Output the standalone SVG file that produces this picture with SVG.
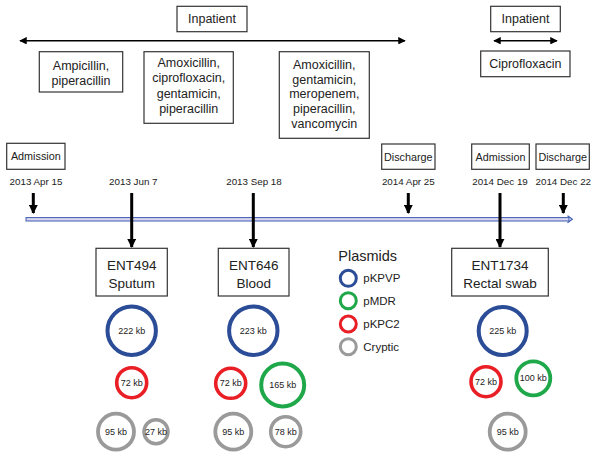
<svg xmlns="http://www.w3.org/2000/svg" width="600" height="461" viewBox="0 0 600 461">
<style>
text{font-family:"Liberation Sans",Arial,sans-serif;fill:#222;text-anchor:middle}
.box{fill:#fff;stroke:#333;stroke-width:1.2}
.drug{font-size:12.5px}
.ev{font-size:10.8px}
.date{font-size:9.8px}
.ent{font-size:13.5px}
.kb{font-size:9px}
.leg{font-size:11.5px;text-anchor:start}
.pl{fill:none}
.blue{stroke:#2b4c96}
.green{stroke:#1ea84a}
.red{stroke:#ea1f26}
.gray{stroke:#9a9a9a}
.arr{stroke:#000;stroke-width:3;fill:none}
.thin{stroke:#000;stroke-width:1.5;fill:none}
</style>
<defs>
<marker id="ah" viewBox="0 0 10 10" refX="9" refY="5" markerWidth="3" markerHeight="3" orient="auto" markerUnits="strokeWidth">
<path d="M0,0 L10,5 L0,10 z" fill="#000"/>
</marker>
<marker id="ah2" viewBox="0 0 10 10" refX="9" refY="5" markerWidth="6" markerHeight="5" orient="auto-start-reverse" markerUnits="strokeWidth">
<path d="M0,0 L10,5 L0,10 z" fill="#000"/>
</marker>
</defs>

<g id="connectors">
<line class="thin" x1="20" y1="40.7" x2="405" y2="40.7" marker-start="url(#ah2)" marker-end="url(#ah2)"/>
<line class="thin" x1="494" y1="40.7" x2="557" y2="40.7" marker-start="url(#ah2)" marker-end="url(#ah2)"/>
<g id="timeline">
<rect x="26" y="217.6" width="543" height="3.4" fill="#d9d6f0" stroke="#3d5cb0" stroke-width="1"/>
<polyline points="567.5,215.8 572.3,219.3 567.5,222.8" fill="none" stroke="#3d5cb0" stroke-width="1.2"/>
</g>
<line class="arr" x1="33.3" y1="193" x2="33.3" y2="213" marker-end="url(#ah)"/>
<line class="arr" x1="131.7" y1="193" x2="131.7" y2="247" marker-end="url(#ah)"/>
<line class="arr" x1="253.3" y1="193" x2="253.3" y2="247" marker-end="url(#ah)"/>
<line class="arr" x1="408.3" y1="193" x2="408.3" y2="213" marker-end="url(#ah)"/>
<line class="arr" x1="500" y1="193" x2="500" y2="247" marker-end="url(#ah)"/>
<line class="arr" x1="563.3" y1="193" x2="563.3" y2="213" marker-end="url(#ah)"/>
</g>

<g id="inpatient1"><rect class="box" x="177" y="6.3" width="70" height="25.4"/><text class="drug" x="212" y="23.3" font-size="12">Inpatient</text></g>
<g id="inpatient2"><rect class="box" x="490.7" y="6.3" width="69.6" height="25.4"/><text class="drug" x="525.5" y="23.3">Inpatient</text></g>

<g id="drugs1"><rect class="box" x="39.3" y="51.7" width="83.4" height="40.3"/>
<text class="drug" x="81" y="69.5">Ampicillin,</text><text class="drug" x="81" y="84.5">piperacillin</text></g>
<g id="drugs2"><rect class="box" x="144" y="51.7" width="89.3" height="71.6"/>
<text class="drug" x="188.7" y="67.3">Amoxicillin,</text><text class="drug" x="188.7" y="82">ciprofloxacin,</text><text class="drug" x="188.7" y="97.5">gentamicin,</text><text class="drug" x="188.7" y="112.5">piperacillin</text></g>
<g id="drugs3"><rect class="box" x="279.3" y="51.7" width="90" height="86.6"/>
<text class="drug" x="324.3" y="69">Amoxicillin,</text><text class="drug" x="324.3" y="83.5">gentamicin,</text><text class="drug" x="324.3" y="98">meropenem,</text><text class="drug" x="324.3" y="112.7">piperacillin,</text><text class="drug" x="324.3" y="127.5">vancomycin</text></g>
<g id="drugs4"><rect class="box" x="480.7" y="51" width="89.3" height="25.7"/><text class="drug" x="525.3" y="68">Ciprofloxacin</text></g>

<g id="admission1"><rect class="box" x="6.7" y="143.3" width="58.3" height="26"/><text class="ev" x="35.8" y="160.3">Admission</text></g>
<g id="discharge1"><rect class="box" x="381.7" y="144" width="53.3" height="25.3"/><text class="ev" x="408.3" y="160.5">Discharge</text></g>
<g id="admission2"><rect class="box" x="471.7" y="144" width="57.6" height="25.3"/><text class="ev" x="500.5" y="160.5">Admission</text></g>
<g id="discharge2"><rect class="box" x="536" y="144" width="53.3" height="25.3"/><text class="ev" x="562.7" y="160.5">Discharge</text></g>

<g id="dates">
<text class="date" x="36" y="185.3">2013 Apr 15</text>
<text class="date" x="133.3" y="185.3">2013 Jun 7</text>
<text class="date" x="254" y="185.3">2013 Sep 18</text>
<text class="date" x="408.3" y="185.3">2014 Apr 25</text>
<text class="date" x="500" y="185.3">2014 Dec 19</text>
<text class="date" x="563.3" y="185.3">2014 Dec 22</text>
</g>

<g id="ent494"><rect class="box" x="96" y="248.3" width="71.3" height="47.7"/>
<text class="ent" x="131.7" y="270">ENT494</text><text class="ent" x="131.7" y="287.7">Sputum</text></g>
<g id="ent646"><rect class="box" x="218.3" y="248.3" width="70.7" height="47.7"/>
<text class="ent" x="253.7" y="270">ENT646</text><text class="ent" x="253.7" y="287.7">Blood</text></g>
<g id="ent1734"><rect class="box" x="451.7" y="248.3" width="96.6" height="47.7"/>
<text class="ent" x="500" y="270">ENT1734</text><text class="ent" x="500" y="287.7">Rectal swab</text></g>

<g id="plasmids494">
<circle class="pl blue" cx="131.7" cy="330.7" r="24.2" stroke-width="4"/><text class="kb" x="131.7" y="333.8">222 kb</text>
<circle class="pl red" cx="131.7" cy="382.7" r="15" stroke-width="3.6"/><text class="kb" x="131.7" y="385.8">72 kb</text>
<circle class="pl gray" cx="116" cy="431.7" r="18" stroke-width="3.8"/><text class="kb" x="116" y="434.8">95 kb</text>
<circle class="pl gray" cx="156" cy="431.7" r="12" stroke-width="3.5"/><text class="kb" x="156" y="434.8">27 kb</text>
</g>
<g id="plasmids646">
<circle class="pl blue" cx="253.3" cy="330.7" r="24.2" stroke-width="4"/><text class="kb" x="253.3" y="333.8">223 kb</text>
<circle class="pl red" cx="230.7" cy="383.3" r="15" stroke-width="3.6"/><text class="kb" x="230.7" y="386.4">72 kb</text>
<circle class="pl green" cx="282.7" cy="385" r="21.5" stroke-width="4"/><text class="kb" x="282.7" y="388.1">165 kb</text>
<circle class="pl gray" cx="233.3" cy="431.7" r="18" stroke-width="3.8"/><text class="kb" x="233.3" y="434.8">95 kb</text>
<circle class="pl gray" cx="285.7" cy="431.7" r="15" stroke-width="3.6"/><text class="kb" x="285.7" y="434.8">78 kb</text>
</g>
<g id="plasmids1734">
<circle class="pl blue" cx="502.7" cy="331" r="24" stroke-width="4"/><text class="kb" x="502.7" y="334.1">225 kb</text>
<circle class="pl red" cx="486" cy="381.7" r="15" stroke-width="3.6"/><text class="kb" x="486" y="384.8">72 kb</text>
<circle class="pl green" cx="533.3" cy="378.3" r="17" stroke-width="3.8"/><text class="kb" x="533.3" y="381.4">100 kb</text>
<circle class="pl gray" cx="507.7" cy="431.7" r="18" stroke-width="3.8"/><text class="kb" x="507.7" y="434.8">95 kb</text>
</g>

<g id="legend">
<text x="338.3" y="260.5" style="font-size:14.5px;text-anchor:start">Plasmids</text>
<circle class="pl blue" cx="348.3" cy="278.3" r="8" stroke-width="3"/><text class="leg" x="363.3" y="282.3">pKPVP</text>
<circle class="pl green" cx="348.3" cy="300.7" r="8" stroke-width="3"/><text class="leg" x="363.3" y="304.7">pMDR</text>
<circle class="pl red" cx="348.3" cy="324" r="8" stroke-width="3"/><text class="leg" x="363.3" y="328">pKPC2</text>
<circle class="pl gray" cx="348.3" cy="346.7" r="8" stroke-width="3"/><text class="leg" x="363.3" y="350.7">Cryptic</text>
</g>
</svg>
